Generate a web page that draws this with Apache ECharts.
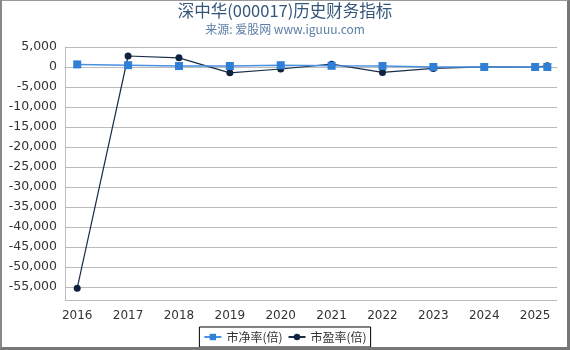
<!DOCTYPE html>
<html><head><meta charset="utf-8">
<script src="https://cdn.jsdelivr.net/npm/echarts@6/dist/echarts.min.js"></script>
<style>
html,body{margin:0;padding:0;background:#fff;}
#frame{position:absolute;left:0;top:0;width:570px;height:350px;box-sizing:border-box;border-top:1px solid #999;border-left:2px solid #888;border-right:3px solid #777;border-bottom:3px solid #777;}
#c{position:absolute;left:0;top:0;width:570px;height:350px;}
</style></head>
<body><div id="c"></div><div id="frame"></div>
<script>
const years = [2016, 2017, 2018, 2019, 2020, 2021, 2022, 2023, 2024, 2025, 2025.24];
const xTickYears = [2016, 2017, 2018, 2019, 2020, 2021, 2022, 2023, 2024, 2025];
const pbValues = [650, 450, 250, 250, 450, 300, 250, 0, 0, 0, 0];
const peValues = [-55300, 2750, 2300, -1450, -500, 700, -1350, -350, 50, 0, 300];
const yTickStep = 5000;

const chart = echarts.init(document.getElementById('c'));
chart.setOption({
  animation: false,
  backgroundColor: '#fff',
  title: {
    text: '深中华(000017)历史财务指标',
    subtext: '来源: 爱股网 www.iguuu.com',
    left: 'center', top: -3, itemGap: 5,
    textStyle: {fontFamily: 'Noto Sans CJK SC', fontSize: 16.5, fontWeight: 'normal', color: '#34567a'},
    subtextStyle: {fontFamily: 'Noto Sans CJK SC', fontSize: 12, color: '#5b7ea6'}
  },
  legend: {
    bottom: 3, left: 'center',
    borderColor: '#000', borderWidth: 1, borderRadius: 0, padding: [4, 4],
    itemWidth: 17, itemHeight: 8, itemGap: 5,
    textStyle: {fontFamily: 'Noto Sans CJK SC', fontSize: 12, color: '#333'},
    data: ['市净率(倍)', '市盈率(倍)']
  },
  grid: {left: 65, right: 13, top: 47, bottom: 50},
  xAxis: {
    type: 'value', min: 2015.76, max: 2025.43,
    offset: 4,
    axisLine: {lineStyle: {color: '#bbb'}},
    axisTick: {inside: true, length: 3, lineStyle: {color: '#bbb'}, customValues: xTickYears},
    splitLine: {show: false},
    axisLabel: {customValues: xTickYears, fontFamily: 'DejaVu Sans', fontSize: 12, color: '#333', margin: 6,
      formatter: v => String(Math.round(v))}
  },
  yAxis: {
    type: 'value', min: -58250, max: 5000, splitNumber: 12,
    axisLine: {show: true, lineStyle: {color: '#bbb'}},
    axisTick: {show: false},
    splitLine: {lineStyle: {color: '#bbb'}},
    axisLabel: {showMinLabel: false, fontFamily: 'DejaVu Sans', fontSize: 12.5, color: '#333', margin: 8,
      formatter: v => (v % yTickStep === 0 ? v.toLocaleString('en-US') : '')}
  },
  series: [
    {name: '市净率(倍)', type: 'line', data: years.map((y, i) => [y, pbValues[i]]),
     symbol: 'rect', symbolSize: 8, itemStyle: {color: '#2f7fd6'}, lineStyle: {color: '#4a90e0', width: 1.5}, z: 3},
    {name: '市盈率(倍)', type: 'line', data: years.map((y, i) => [y, peValues[i]]),
     symbol: 'circle', symbolSize: 7, itemStyle: {color: '#0f2340'}, lineStyle: {color: '#1a2e4a', width: 1.2}, z: 2}
  ]
});
</script></body></html>
